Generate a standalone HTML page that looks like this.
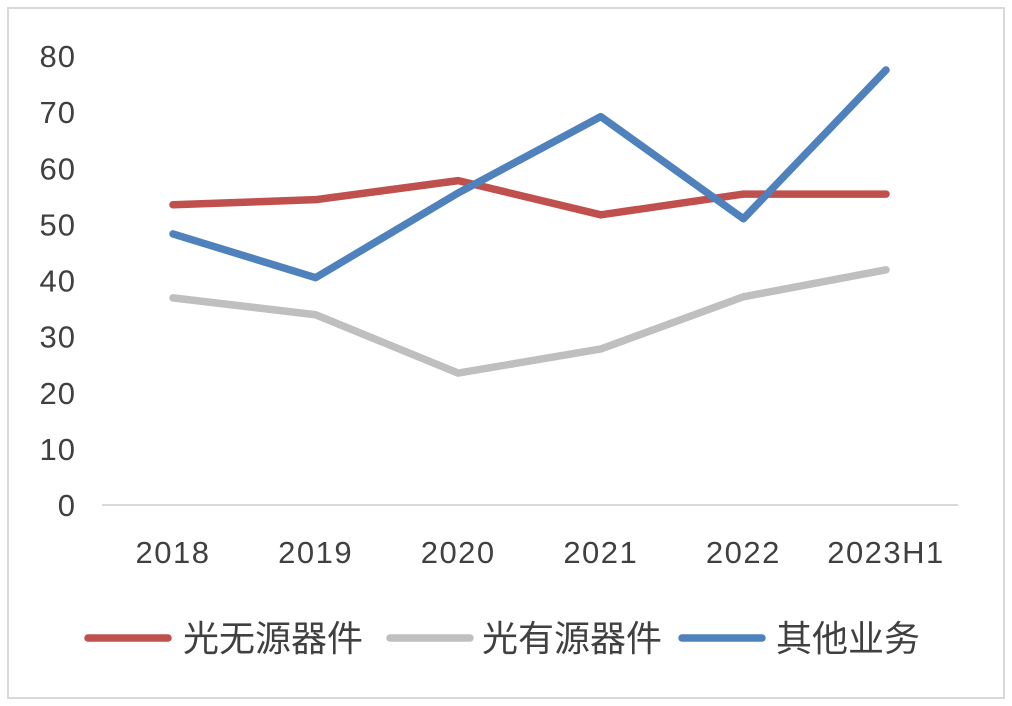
<!DOCTYPE html>
<html><head><meta charset="utf-8"><style>
body{margin:0;background:#fff;}
svg{display:block;font-family:"Liberation Sans","Noto Sans CJK SC",sans-serif;}
</style></head><body>
<svg width="1012" height="706">
<rect x="8" y="8" width="996" height="690" fill="#fff" stroke="#d9d9d9" stroke-width="2"/>
<g id="yaxis"></g>
<g id="xaxis"></g>
<g id="series"></g>
<g id="legend"></g>
</svg>
<script>
const categories=["2018","2019","2020","2021","2022","2023H1"];
const seriesNames=["光无源器件","光有源器件","其他业务"];
const passive=[53.5,54.4,57.8,51.7,55.4,55.4];
const active=[36.9,33.9,23.5,27.8,37.1,41.9];
const other=[48.3,40.5,55.6,69.2,51.0,77.5];
const yTicks=[0,10,20,30,40,50,60,70,80];
const colors=["#c0504d","#bfbfbf","#4f81bd"];
const NS="http://www.w3.org/2000/svg";
function y(v){return 505-v*5.6125;}
function x(i){return 173+i*142.6;}
function mk(t,a,p){const e=document.createElementNS(NS,t);for(const k in a)e.setAttribute(k,a[k]);p.appendChild(e);return e;}
const ya=document.getElementById('yaxis');
yTicks.forEach(v=>{const t=mk('text',{x:76,y:y(v)+11,'text-anchor':'end','font-size':31,'letter-spacing':1,fill:'#404040'},ya);t.textContent=v;

});
const xa=document.getElementById('xaxis');
const ax=mk('line',{x1:102,x2:958,y1:y(0),y2:y(0),stroke:'#d9d9d9','stroke-width':2},xa);


categories.forEach((c,i)=>{const t=mk('text',{x:x(i),y:563,'text-anchor':'middle','font-size':31,'letter-spacing':1.5,fill:'#404040'},xa);t.textContent=c;

});
const sg=document.getElementById('series');
[passive,active,other].forEach((d,s)=>{const p=mk('polyline',{points:d.map((v,i)=>x(i)+','+y(v)).join(' '),fill:'none',stroke:colors[s],'stroke-width':7.5,'stroke-linejoin':'round','stroke-linecap':'round'},sg);

});
const lg=document.getElementById('legend');
const lx=[88,390,682];
const tx=[183,482,776];
seriesNames.forEach((n,s)=>{const l=mk('line',{x1:lx[s],x2:lx[s]+80,y1:638,y2:638,stroke:colors[s],'stroke-width':7.5,'stroke-linecap':'round'},lg);


const t=mk('text',{x:tx[s],y:651,'font-size':36,fill:'#404040'},lg);t.textContent=n;

});
</script>
</body></html>
